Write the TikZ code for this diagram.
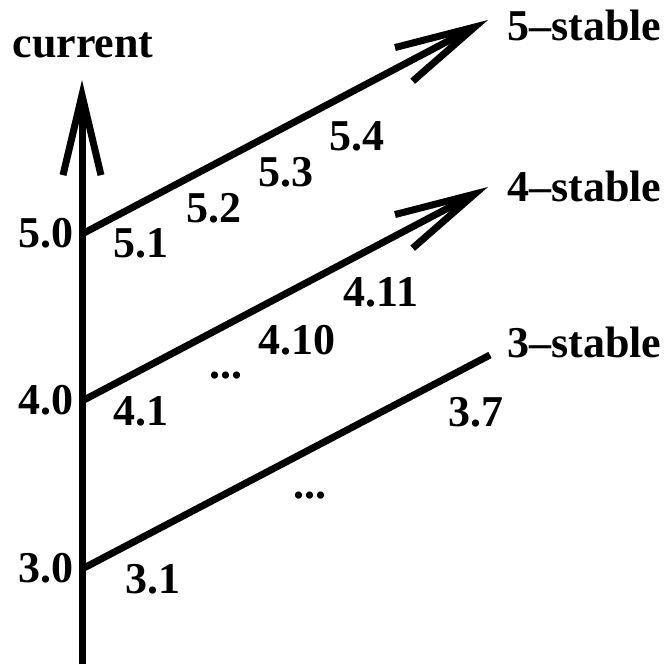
\documentclass[tikz,border=0pt]{standalone}
\usepackage{fontspec}
\setmainfont{Liberation Serif}
\usetikzlibrary{arrows.meta}
\tikzset{
  version/.style={inner sep=0pt, font=\fontsize{22}{26}\selectfont\bfseries},
  line/.style={line width=3.5pt},
  head/.style={line, -{Straight Barb[sharp,length=40pt,width=19pt]}}
}
\begin{document}
\begin{tikzpicture}[x=0.5pt,y=-0.5pt]
        \useasboundingbox (0,0) rectangle (667,664);
        % trunk
        \coordinate (base) at (82,664);
        \coordinate (top) at (82,80);
        \node[version] (cur) at (83,45) {current};
        \draw[head] (base)--(top);
        % branch points on the trunk
        \coordinate (v5) at (82,234);
        \coordinate (v4) at (82,401);
        \coordinate (v3) at (82,569);
        \coordinate (e5) at (488,20);
        \coordinate (e4) at (488,187);
        \coordinate (e3) at (490,355);
        \draw[head] (v5)--(e5);
        \draw[head] (v4)--(e4);
        \draw[line] (v3)--(e3);
        % labels
        \node[version] (r50) at (46,233) {5.0};
        \node[version] (r40) at (46,400) {4.0};
        \node[version] (r30) at (46,568) {3.0};
        \node[version,anchor=west] (s5) at (507,25) {5--stable};
        \node[version,anchor=west] (s4) at (507,186) {4--stable};
        \node[version,anchor=west] (s3) at (507,342) {3--stable};
        \node[version] (r51) at (141,243) {5.1};
        \node[version] (r52) at (214,208) {5.2};
        \node[version] (r53) at (286,172) {5.3};
        \node[version] (r54) at (357,136) {5.4};
        \node[version] (r41) at (141,411) {4.1};
        \node[version,anchor=base] (d4) at (226,378) {...};
        \node[version] (r410) at (297,340) {4.10};
        \node[version] (r411) at (381,292) {4.11};
        \node[version] (r31) at (153,579) {3.1};
        \node[version,anchor=base] (d3) at (310,498) {...};
        \node[version] (r37) at (476,412) {3.7};
\end{tikzpicture}
\end{document}
